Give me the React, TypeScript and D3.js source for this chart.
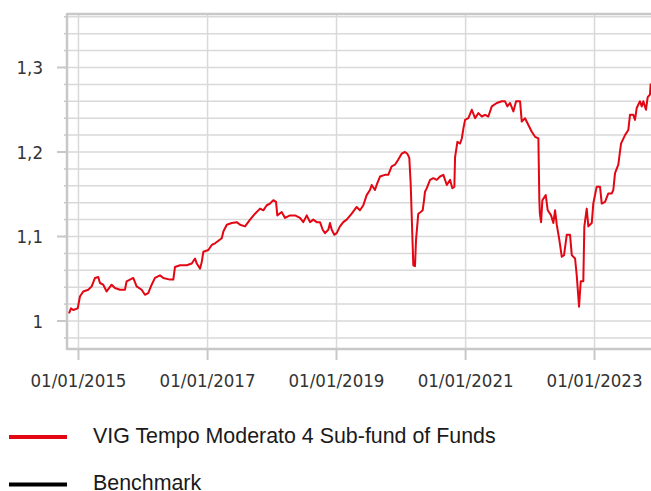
import React from "react";
import * as d3 from "d3";

// Decimal-year positions of the fund's NAV samples
const years: number[] = [
  2014.853, 2014.884, 2014.919, 2014.988, 2015.023, 2015.074, 2015.152, 2015.205, 2015.256, 2015.307,
  2015.333, 2015.384, 2015.437, 2015.515, 2015.566, 2015.643, 2015.721, 2015.747, 2015.85, 2015.902,
  2015.98, 2016.031, 2016.082, 2016.135, 2016.186, 2016.264, 2016.315, 2016.419, 2016.47, 2016.496,
  2016.574, 2016.678, 2016.755, 2016.806, 2016.833, 2016.884, 2016.91, 2016.935, 2017.012, 2017.065,
  2017.116, 2017.22, 2017.245, 2017.298, 2017.375, 2017.453, 2017.504, 2017.581, 2017.659, 2017.736,
  2017.814, 2017.865, 2017.918, 2017.969, 2018.02, 2018.062, 2018.082, 2018.15, 2018.202, 2018.279,
  2018.357, 2018.434, 2018.485, 2018.538, 2018.589, 2018.64, 2018.693, 2018.744, 2018.786, 2018.822,
  2018.873, 2018.899, 2018.926, 2018.966, 2019.003, 2019.054, 2019.105, 2019.158, 2019.236, 2019.313,
  2019.364, 2019.416, 2019.468, 2019.519, 2019.546, 2019.597, 2019.623, 2019.674, 2019.752, 2019.803,
  2019.856, 2019.907, 2019.958, 2020.011, 2020.062, 2020.098, 2020.129, 2020.15, 2020.191, 2020.217,
  2020.233, 2020.268, 2020.305, 2020.336, 2020.357, 2020.372, 2020.398, 2020.45, 2020.501, 2020.553,
  2020.605, 2020.656, 2020.709, 2020.76, 2020.795, 2020.826, 2020.837, 2020.873, 2020.915, 2020.941,
  2020.966, 2020.992, 2021.043, 2021.096, 2021.147, 2021.198, 2021.251, 2021.302, 2021.353, 2021.406,
  2021.484, 2021.561, 2021.612, 2021.648, 2021.69, 2021.741, 2021.783, 2021.845, 2021.871, 2021.922,
  2021.974, 2022.026, 2022.078, 2022.129, 2022.144, 2022.152, 2022.171, 2022.191, 2022.243, 2022.274,
  2022.326, 2022.361, 2022.388, 2022.414, 2022.454, 2022.492, 2022.527, 2022.569, 2022.62, 2022.647,
  2022.698, 2022.724, 2022.76, 2022.786, 2022.826, 2022.842, 2022.879, 2022.904, 2022.957, 2022.981,
  2023.034, 2023.085, 2023.112, 2023.163, 2023.214, 2023.267, 2023.291, 2023.318, 2023.369, 2023.411,
  2023.473, 2023.524, 2023.55, 2023.602, 2023.628, 2023.654, 2023.705, 2023.732, 2023.757, 2023.798,
  2023.825, 2023.86, 2023.871,
];

const fundValues: number[] = [
  1.009, 1.015, 1.013, 1.015, 1.029, 1.035, 1.037, 1.041, 1.051, 1.052,
  1.045, 1.043, 1.035, 1.043, 1.039, 1.037, 1.037, 1.047, 1.051, 1.041,
  1.037, 1.031, 1.033, 1.043, 1.051, 1.054, 1.051, 1.049, 1.049, 1.064,
  1.066, 1.066, 1.068, 1.074, 1.068, 1.062, 1.07, 1.082, 1.084, 1.09,
  1.092, 1.098, 1.106, 1.114, 1.116, 1.117, 1.114, 1.112, 1.12, 1.127,
  1.133, 1.131, 1.137, 1.139, 1.143, 1.141, 1.125, 1.129, 1.122, 1.125,
  1.125, 1.122, 1.117, 1.125, 1.117, 1.12, 1.117, 1.117, 1.108, 1.104,
  1.108, 1.116, 1.108, 1.102, 1.104, 1.112, 1.117, 1.12, 1.127, 1.135,
  1.131, 1.137, 1.149, 1.155, 1.161, 1.155, 1.161, 1.171, 1.173, 1.173,
  1.183, 1.185, 1.191, 1.198, 1.2, 1.198, 1.193, 1.163, 1.066, 1.065,
  1.096, 1.127, 1.129, 1.131, 1.143, 1.153, 1.157, 1.167, 1.169, 1.167,
  1.171, 1.173, 1.161, 1.167, 1.157, 1.159, 1.194, 1.212, 1.21, 1.216,
  1.228, 1.238, 1.24, 1.25, 1.24, 1.246, 1.242, 1.244, 1.242, 1.254,
  1.258, 1.26, 1.26, 1.254, 1.258, 1.248, 1.26, 1.26, 1.236, 1.24,
  1.232, 1.224, 1.218, 1.216, 1.143, 1.127, 1.117, 1.143, 1.149, 1.131,
  1.125, 1.116, 1.131, 1.114, 1.096, 1.076, 1.078, 1.102, 1.102, 1.078,
  1.074, 1.054, 1.017, 1.047, 1.047, 1.112, 1.133, 1.112, 1.116, 1.139,
  1.159, 1.159, 1.139, 1.141, 1.151, 1.151, 1.155, 1.175, 1.185, 1.21,
  1.22, 1.226, 1.244, 1.244, 1.238, 1.252, 1.26, 1.254, 1.26, 1.25,
  1.265, 1.268, 1.281,
];

const xTickDates: string[] = ["2015-01-01", "2017-01-01", "2019-01-01", "2021-01-01", "2023-01-01"];
const xTickLabels: string[] = ["01/01/2015", "01/01/2017", "01/01/2019", "01/01/2021", "01/01/2023"];
const yTickValues: number[] = [1, 1.1, 1.2, 1.3];
const yTickLabels: string[] = ["1", "1,1", "1,2", "1,3"];
const legendNames: string[] = ["VIG Tempo Moderato 4 Sub-fund of Funds", "Benchmark"];
const legendColors: string[] = ["#e30613", "#000000"];

const W = 651;
const H = 491;
const plotLeft = 67;
const plotRight = 651;
const plotTop = 14;
const plotBottom = 349;

function yearToDate(y: number): Date {
  const yr = Math.floor(y);
  const start = Date.UTC(yr, 0, 1);
  const end = Date.UTC(yr + 1, 0, 1);
  return new Date(start + (y - yr) * (end - start));
}

export default function App() {
  const x = d3
    .scaleUtc()
    .domain([yearToDate(2014.822), yearToDate(2023.876)])
    .range([plotLeft, plotRight]);
  const y = d3.scaleLinear().domain([0.9669, 1.3633]).range([plotBottom, plotTop]);

  const data = years.map((yr, i) => ({ d: yearToDate(yr), v: fundValues[i] }));
  const line = d3
    .line<{ d: Date; v: number }>()
    .x((p) => x(p.d))
    .y((p) => y(p.v));

  const minorTicks = d3.range(0.98, 1.3601, 0.02).map((v) => Math.round(v * 100) / 100);
  const gridColor = "#d9d9d9";
  const axisColor = "#c8c8c8";
  const tickFont = "'DejaVu Sans Condensed', 'DejaVu Sans', sans-serif";

  return (
    <svg
      width={W}
      height={H}
      style={{ position: "absolute", left: 0, top: 0, background: "#fff" }}
    >
      {/* horizontal grid */}
      {minorTicks.map((v) => (
        <g key={"h" + v}>
          <line x1={plotLeft} x2={plotRight} y1={y(v)} y2={y(v)} stroke={gridColor} strokeWidth={1.5} />
          <line x1={plotLeft - 3} x2={plotLeft} y1={y(v)} y2={y(v)} stroke={axisColor} strokeWidth={1.5} />
        </g>
      ))}
      {/* vertical grid */}
      {xTickDates.map((s) => {
        const xx = x(new Date(s + "T00:00:00Z"));
        return (
          <g key={"v" + s}>
            <line x1={xx} x2={xx} y1={plotTop} y2={plotBottom} stroke={gridColor} strokeWidth={1.5} />
            <line x1={xx} x2={xx} y1={plotBottom} y2={plotBottom + 11} stroke={axisColor} strokeWidth={2} />
          </g>
        );
      })}
      {/* axes frame */}
      <line x1={plotLeft} x2={plotRight} y1={plotTop} y2={plotTop} stroke={axisColor} strokeWidth={2.5} />
      <line x1={plotLeft} x2={plotLeft} y1={plotTop - 1} y2={plotBottom + 1} stroke={axisColor} strokeWidth={2.5} />
      <line x1={plotLeft} x2={plotRight} y1={plotBottom} y2={plotBottom} stroke={axisColor} strokeWidth={2.5} />
      {/* y major ticks + labels */}
      {yTickValues.map((v, i) => (
        <g key={"yt" + v}>
          <line x1={plotLeft - 10} x2={plotLeft} y1={y(v)} y2={y(v)} stroke={axisColor} strokeWidth={2} />
          <text
            x={43}
            y={y(v)}
            dy="0.36em"
            textAnchor="end"
            fontFamily={tickFont}
            fontSize={18.5}
            fill="#333333"
          >
            {yTickLabels[i]}
          </text>
        </g>
      ))}
      {/* x labels */}
      {xTickDates.map((s, i) => (
        <text
          key={"xl" + s}
          x={x(new Date(s + "T00:00:00Z"))}
          y={386.5}
          textAnchor="middle"
          fontFamily={tickFont}
          fontSize={18.5}
          fill="#333333"
        >
          {xTickLabels[i]}
        </text>
      ))}
      {/* series */}
      <path d={line(data) || ""} fill="none" stroke={legendColors[0]} strokeWidth={2} strokeLinejoin="round" />
      {/* legend */}
      {legendNames.map((name, i) => {
        const cy = i === 0 ? 437 : 484.5;
        const base = i === 0 ? 442.5 : 490;
        return (
          <g key={"lg" + i}>
            <line x1={9} x2={67} y1={cy} y2={cy} stroke={legendColors[i]} strokeWidth={4} />
            <text
              x={93}
              y={base}
              fontFamily="'Liberation Sans', Arial, sans-serif"
              fontSize={21.4}
              fill="#1a1a1a"
            >
              {name}
            </text>
          </g>
        );
      })}
    </svg>
  );
}
